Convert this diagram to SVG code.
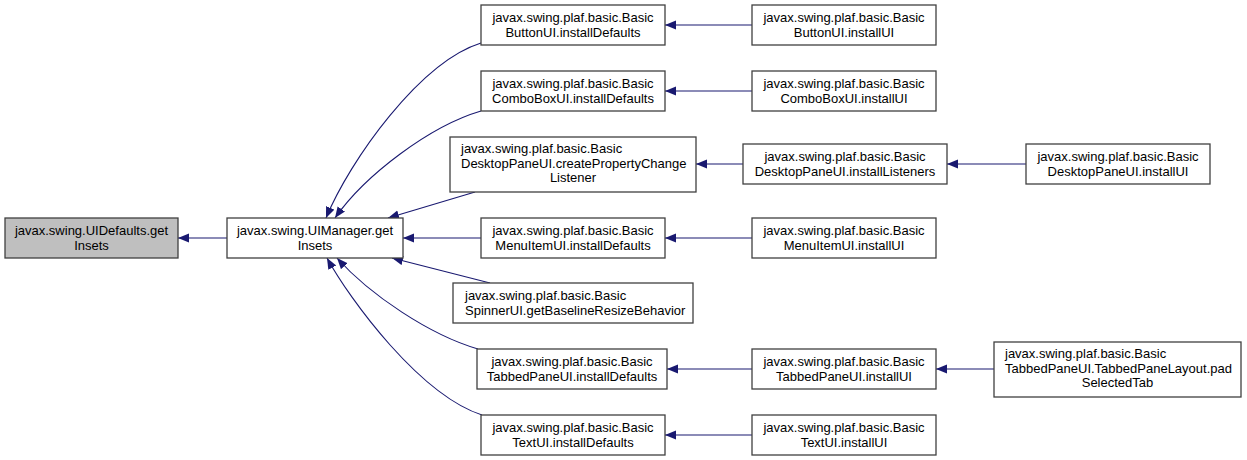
<svg xmlns="http://www.w3.org/2000/svg" width="1247" height="460" viewBox="0 0 1247 460">
<style>
.box{fill:#ffffff;stroke:#404040;stroke-width:1.3}
.root{fill:#bfbfbf;stroke:#404040;stroke-width:1.3}
text{font-family:"Liberation Sans",Arial,sans-serif;font-size:13px;fill:#000000}
.c{text-anchor:middle}
.l{text-anchor:start}
.e{fill:none;stroke:#191970;stroke-width:1.1}
</style>
<defs>
<marker id="arr" markerUnits="userSpaceOnUse" markerWidth="12" markerHeight="10" refX="11" refY="4.5" orient="auto">
<path d="M0,0 L11,4.5 L0,9 z" fill="#191970"/>
</marker>
</defs>
<rect width="1247" height="460" fill="#ffffff"/>
<g id="connectors">
<path class="e" marker-end="url(#arr)" d="M227,238 L178,238"/>
<path class="e" marker-end="url(#arr)" d="M481,43 C420,62 350,160 326,218"/>
<path class="e" marker-end="url(#arr)" d="M481,111 C430,126 365,175 335,218"/>
<path class="e" marker-end="url(#arr)" d="M475,192 L388,218"/>
<path class="e" marker-end="url(#arr)" d="M481,238 L403,238"/>
<path class="e" marker-end="url(#arr)" d="M490,283 L392,258"/>
<path class="e" marker-end="url(#arr)" d="M478,349 C430,335 370,295 337,258"/>
<path class="e" marker-end="url(#arr)" d="M482,415 C420,395 350,300 327,258"/>
<path class="e" marker-end="url(#arr)" d="M752,25 L665,25"/>
<path class="e" marker-end="url(#arr)" d="M752,91 L665,91"/>
<path class="e" marker-end="url(#arr)" d="M743,164 L696,164"/>
<path class="e" marker-end="url(#arr)" d="M1026,164 L947,164"/>
<path class="e" marker-end="url(#arr)" d="M752,238 L665,238"/>
<path class="e" marker-end="url(#arr)" d="M752,369 L667,369"/>
<path class="e" marker-end="url(#arr)" d="M994,369 L936,369"/>
<path class="e" marker-end="url(#arr)" d="M752,435 L665,435"/>
</g>
<g id="n0">
<rect class="root" x="5" y="218" width="173" height="40"/>
<text class="c" x="91.5" y="235">javax.swing.UIDefaults.get</text>
<text class="c" x="91.5" y="249.5">Insets</text>
</g>
<g id="n1">
<rect class="box" x="227" y="218" width="176" height="40"/>
<text class="c" x="315" y="235">javax.swing.UIManager.get</text>
<text class="c" x="315" y="249.5">Insets</text>
</g>
<g id="n2">
<rect class="box" x="481" y="5" width="184" height="40"/>
<text class="c" x="573" y="22">javax.swing.plaf.basic.Basic</text>
<text class="c" x="573" y="36.5">ButtonUI.installDefaults</text>
</g>
<g id="n3">
<rect class="box" x="481" y="71" width="184" height="40"/>
<text class="c" x="573" y="88">javax.swing.plaf.basic.Basic</text>
<text class="c" x="573" y="102.5">ComboBoxUI.installDefaults</text>
</g>
<g id="n4">
<rect class="box" x="450" y="137" width="246" height="55"/>
<text class="l" x="461" y="153">javax.swing.plaf.basic.Basic</text>
<text class="l" x="461" y="167.5">DesktopPaneUI.createPropertyChange</text>
<text class="c" x="573" y="182">Listener</text>
</g>
<g id="n5">
<rect class="box" x="481" y="218" width="184" height="40"/>
<text class="c" x="573" y="235">javax.swing.plaf.basic.Basic</text>
<text class="c" x="573" y="249.5">MenuItemUI.installDefaults</text>
</g>
<g id="n6">
<rect class="box" x="453" y="283" width="240" height="40"/>
<text class="l" x="465" y="300">javax.swing.plaf.basic.Basic</text>
<text class="l" x="465" y="314.5">SpinnerUI.getBaselineResizeBehavior</text>
</g>
<g id="n7">
<rect class="box" x="477" y="349" width="190" height="40"/>
<text class="c" x="572" y="366">javax.swing.plaf.basic.Basic</text>
<text class="c" x="572" y="380.5">TabbedPaneUI.installDefaults</text>
</g>
<g id="n8">
<rect class="box" x="481" y="415" width="184" height="40"/>
<text class="c" x="573" y="432">javax.swing.plaf.basic.Basic</text>
<text class="c" x="573" y="446.5">TextUI.installDefaults</text>
</g>
<g id="n9">
<rect class="box" x="752" y="5" width="184" height="40"/>
<text class="c" x="844" y="22">javax.swing.plaf.basic.Basic</text>
<text class="c" x="844" y="36.5">ButtonUI.installUI</text>
</g>
<g id="n10">
<rect class="box" x="752" y="71" width="184" height="40"/>
<text class="c" x="844" y="88">javax.swing.plaf.basic.Basic</text>
<text class="c" x="844" y="102.5">ComboBoxUI.installUI</text>
</g>
<g id="n11">
<rect class="box" x="743" y="144" width="204" height="40"/>
<text class="c" x="845" y="161">javax.swing.plaf.basic.Basic</text>
<text class="c" x="845" y="175.5">DesktopPaneUI.installListeners</text>
</g>
<g id="n12">
<rect class="box" x="1026" y="144" width="184" height="40"/>
<text class="c" x="1118" y="161">javax.swing.plaf.basic.Basic</text>
<text class="c" x="1118" y="175.5">DesktopPaneUI.installUI</text>
</g>
<g id="n13">
<rect class="box" x="752" y="218" width="184" height="40"/>
<text class="c" x="844" y="235">javax.swing.plaf.basic.Basic</text>
<text class="c" x="844" y="249.5">MenuItemUI.installUI</text>
</g>
<g id="n14">
<rect class="box" x="752" y="349" width="184" height="40"/>
<text class="c" x="844" y="366">javax.swing.plaf.basic.Basic</text>
<text class="c" x="844" y="380.5">TabbedPaneUI.installUI</text>
</g>
<g id="n15">
<rect class="box" x="994" y="342" width="247" height="55"/>
<text class="l" x="1005" y="358">javax.swing.plaf.basic.Basic</text>
<text class="l" x="1005" y="372.5">TabbedPaneUI.TabbedPaneLayout.pad</text>
<text class="c" x="1117.5" y="387">SelectedTab</text>
</g>
<g id="n16">
<rect class="box" x="752" y="415" width="184" height="40"/>
<text class="c" x="844" y="432">javax.swing.plaf.basic.Basic</text>
<text class="c" x="844" y="446.5">TextUI.installUI</text>
</g>
</svg>
